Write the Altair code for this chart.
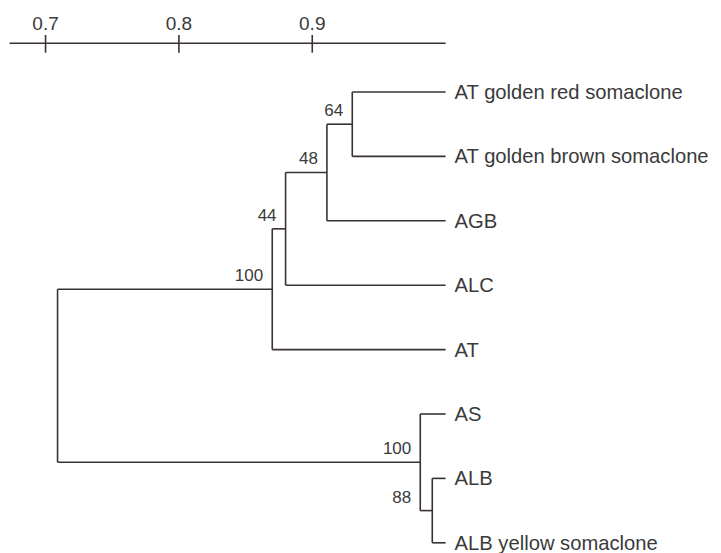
import altair as alt
import pandas as pd

# ---- data ----
leaf_labels = ["AT golden red somaclone", "AT golden brown somaclone", "AGB", "ALC",
               "AT", "AS", "ALB", "ALB yellow somaclone"]
leaf_similarity = 1.0

node_names = ["n64", "n48", "n44", "n100a", "n88", "n100b", "root"]
node_children = [("L0", "L1"), ("n64", "L2"), ("n48", "L3"), ("n44", "L4"),
                 ("L6", "L7"), ("L5", "n88"), ("n100a", "n100b")]
node_similarity = [0.930, 0.911, 0.880, 0.870, 0.990, 0.981, 0.709]
node_support = [64, 48, 44, 100, 88, 100, None]
support_anchor = [0.930, 0.911, 0.880, 0.870, 0.981, 0.981, None]

scale_ticks = [0.7, 0.8, 0.9]
scale_labels = ["0.7", "0.8", "0.9"]
scale_start = 0.673
scale_end = 1.0

# ---- tree layout ----
pos = {f"L{i}": (leaf_similarity, float(i)) for i in range(len(leaf_labels))}
segs = []
for name, (c1, c2), sim in zip(node_names, node_children, node_similarity):
    y1, y2 = pos[c1][1], pos[c2][1]
    pos[name] = (sim, (y1 + y2) / 2)
    segs.append(dict(x=sim, x2=sim, y=y1, y2=y2))
    for c in (c1, c2):
        segs.append(dict(x=sim, x2=pos[c][0], y=pos[c][1], y2=pos[c][1]))
seg_df = pd.DataFrame(segs)

leaf_df = pd.DataFrame({"x": [leaf_similarity] * len(leaf_labels),
                        "y": list(range(len(leaf_labels))),
                        "label": leaf_labels})

sup_rows = []
for name, s, ax in zip(node_names, node_support, support_anchor):
    if s is not None:
        sup_rows.append(dict(x=ax, y=pos[name][1], label=str(s)))
sup_df = pd.DataFrame(sup_rows)

bar_df = pd.DataFrame({"x": [scale_start], "x2": [scale_end]})
tick_df = pd.DataFrame({"x": scale_ticks, "label": scale_labels})

FONT = "Liberation Sans"
LINE = "#3a3232"
TEXT = "#3a3a3a"

W = 705
H = 545
xs = alt.Scale(domain=[0.67184, 0.67184 + W / 1333.5], nice=False, zero=False)
ys = alt.Scale(domain=[-1.3043, -1.3043 + H / 64.4], nice=False, zero=False, reverse=True)

branches = alt.Chart(seg_df).mark_rule(color=LINE, strokeWidth=1.6).encode(
    x=alt.X("x:Q", scale=xs, axis=None),
    x2="x2:Q",
    y=alt.Y("y:Q", scale=ys, axis=None),
    y2="y2:Q",
)

leaves = alt.Chart(leaf_df).mark_text(
    align="left", baseline="middle", dx=9, dy=1, fontSize=20.2, font=FONT, color=TEXT
).encode(x=alt.X("x:Q", scale=xs, axis=None), y=alt.Y("y:Q", scale=ys, axis=None), text="label:N")

support = alt.Chart(sup_df).mark_text(
    align="right", baseline="alphabetic", dx=-9, dy=-8, fontSize=17, font=FONT, color=TEXT
).encode(x=alt.X("x:Q", scale=xs, axis=None), y=alt.Y("y:Q", scale=ys, axis=None), text="label:N")

bar = alt.Chart(bar_df).mark_rule(color=LINE, strokeWidth=1.6).encode(
    x=alt.X("x:Q", scale=xs, axis=None), x2="x2:Q", y=alt.value(35.3)
)
ticks = alt.Chart(tick_df).mark_rule(color=LINE, strokeWidth=1.6).encode(
    x=alt.X("x:Q", scale=xs, axis=None), y=alt.value(27), y2=alt.value(44.7)
)
tick_labels = alt.Chart(tick_df).mark_text(
    align="center", baseline="alphabetic", fontSize=19, font=FONT, color=TEXT
).encode(x=alt.X("x:Q", scale=xs, axis=None), y=alt.value(22), text="label:N")

chart = alt.layer(branches, leaves, support, bar, ticks, tick_labels).properties(
    width=W, height=H, autosize=alt.AutoSizeParams(type="none"), padding=0
).configure(background="white").configure_view(stroke=None)

chart.save("out.html", embed_options={"renderer": "svg", "actions": False})
